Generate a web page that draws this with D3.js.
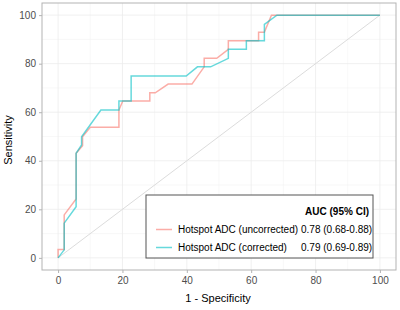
<!DOCTYPE html>
<html lang="en">
<head>
    <meta charset="UTF-8">
    <title>ROC curves</title>
    <script src="https://d3js.org/d3.v7.min.js"></script>
    <style>
        body { margin: 0; background: white; }
        svg { display: block; font-family: "Liberation Sans", Arial, sans-serif; }
    </style>
</head>
<body>
<svg width="400" height="310"></svg>
<script>
    // 1 - specificity (%) and sensitivity (%)
    const uncorrFpr = [0, 0, 1.9, 1.9, 5.6, 5.6, 7.6, 7.6, 10, 18.9, 18.9, 20.1, 28.5, 28.5, 30.2, 34.2, 41.6, 45.4, 45.4, 49.3, 52.9, 52.9, 62.3, 62.3, 64.1, 66.3, 100];
    const uncorrTpr = [0, 3.4, 3.4, 17.7, 24.3, 43.1, 46.2, 49.9, 53.8, 53.8, 60.9, 64.6, 64.6, 68, 68, 71.6, 71.6, 78.7, 82.2, 82.2, 85.9, 89.4, 89.4, 93, 93, 100, 100];
    const corrFpr = [0, 1.9, 1.9, 5.6, 5.6, 7.3, 7.3, 13.3, 18.9, 18.9, 22.7, 22.7, 39.8, 43.3, 47.4, 52.9, 52.9, 58.5, 58.5, 64.1, 64.1, 68, 100];
    const corrTpr = [0, 3.3, 14.3, 21.1, 43.1, 46.5, 49.9, 60.9, 60.9, 64.6, 64.6, 74.9, 74.9, 78.7, 78.7, 82.2, 85.9, 85.9, 89.4, 89.4, 96.2, 100, 100];

    const seriesNames = ["Hotspot ADC (uncorrected)", "Hotspot ADC (corrected)"];
    const aucLabels = ["0.78 (0.68-0.88)", "0.79 (0.69-0.89)"];
    const colors = ["#F8766D", "#00BFC4"];
    const ticks = [0, 20, 40, 60, 80, 100];
    const minorTicks = [10, 30, 50, 70, 90];

    const svg = d3.select("svg");

    const panel = {left: 42, right: 396, top: 3, bottom: 270};

    const x = d3.scaleLinear().domain([-5, 105]).range([panel.left, panel.right]);
    const y = d3.scaleLinear().domain([-5, 105]).range([panel.bottom, panel.top]);

    // grid
    const grid = svg.append("g");
    grid.selectAll(".minx").data(minorTicks).join("line")
        .attr("x1", d => x(d)).attr("x2", d => x(d))
        .attr("y1", panel.top).attr("y2", panel.bottom)
        .attr("stroke", "#f4f4f4").attr("stroke-width", 0.6);
    grid.selectAll(".miny").data(minorTicks).join("line")
        .attr("y1", d => y(d)).attr("y2", d => y(d))
        .attr("x1", panel.left).attr("x2", panel.right)
        .attr("stroke", "#f4f4f4").attr("stroke-width", 0.6);
    grid.selectAll(".majx").data(ticks).join("line")
        .attr("x1", d => x(d)).attr("x2", d => x(d))
        .attr("y1", panel.top).attr("y2", panel.bottom)
        .attr("stroke", "#ececec").attr("stroke-width", 0.8);
    grid.selectAll(".majy").data(ticks).join("line")
        .attr("y1", d => y(d)).attr("y2", d => y(d))
        .attr("x1", panel.left).attr("x2", panel.right)
        .attr("stroke", "#ececec").attr("stroke-width", 0.8);

    // chance line
    svg.append("line")
        .attr("x1", x(0)).attr("y1", y(0))
        .attr("x2", x(100)).attr("y2", y(100))
        .attr("stroke", "#dcdcdc").attr("stroke-width", 1);

    const line = d3.line().x(d => x(d[0])).y(d => y(d[1]));
    const curves = [
        d3.zip(uncorrFpr, uncorrTpr),
        d3.zip(corrFpr, corrTpr)
    ];

    svg.selectAll(".roc").data(curves).join("path")
        .attr("d", line)
        .attr("fill", "none")
        .attr("stroke", (d, i) => colors[i])
        .attr("stroke-opacity", 0.6)
        .attr("stroke-width", 1.5);

    // panel border
    svg.append("rect")
        .attr("x", panel.left).attr("y", panel.top)
        .attr("width", panel.right - panel.left).attr("height", panel.bottom - panel.top)
        .attr("fill", "none").attr("stroke", "#b3b3b3").attr("stroke-width", 1);

    // axes
    const xAxis = svg.append("g")
        .attr("transform", `translate(0,${panel.bottom})`)
        .call(d3.axisBottom(x).tickValues(ticks).tickSize(3).tickPadding(4));
    const yAxis = svg.append("g")
        .attr("transform", `translate(${panel.left},0)`)
        .call(d3.axisLeft(y).tickValues(ticks).tickSize(3).tickPadding(3));
    [xAxis, yAxis].forEach(a => {
        a.select(".domain").remove();
        a.selectAll(".tick line").attr("stroke", "#b3b3b3");
        a.selectAll(".tick text")
            .attr("fill", "#4d4d4d")
            .style("font-size", "10px")
            .style("font-family", "Liberation Sans, Arial, sans-serif");
    });

    svg.append("text")
        .attr("x", 218).attr("y", 302)
        .attr("text-anchor", "middle")
        .style("font-size", "11px")
        .text("1 - Specificity");
    svg.append("text")
        .attr("transform", "translate(12,140) rotate(-90)")
        .attr("text-anchor", "middle")
        .style("font-size", "11px")
        .text("Sensitivity");

    // legend
    const leg = svg.append("g");
    leg.append("rect")
        .attr("x", 146).attr("y", 195)
        .attr("width", 227).attr("height", 63)
        .attr("fill", "white").attr("stroke", "#555").attr("stroke-width", 1);
    leg.append("text")
        .attr("x", 369).attr("y", 215)
        .attr("text-anchor", "end")
        .style("font-size", "10px").style("font-weight", "bold")
        .text("AUC (95% CI)");
    const rows = leg.selectAll(".row").data(seriesNames).join("g")
        .attr("transform", (d, i) => `translate(0,${229.5 + i * 18})`);
    rows.append("line")
        .attr("x1", 156).attr("x2", 172)
        .attr("stroke", (d, i) => colors[i])
        .attr("stroke-opacity", 0.6).attr("stroke-width", 1.5);
    rows.append("text")
        .attr("x", 178).attr("dy", "0.35em")
        .style("font-size", "10px")
        .text(d => d);
    rows.append("text")
        .attr("x", 301).attr("dy", "0.35em")
        .style("font-size", "10px")
        .text((d, i) => aucLabels[i]);
</script>
</body>
</html>
